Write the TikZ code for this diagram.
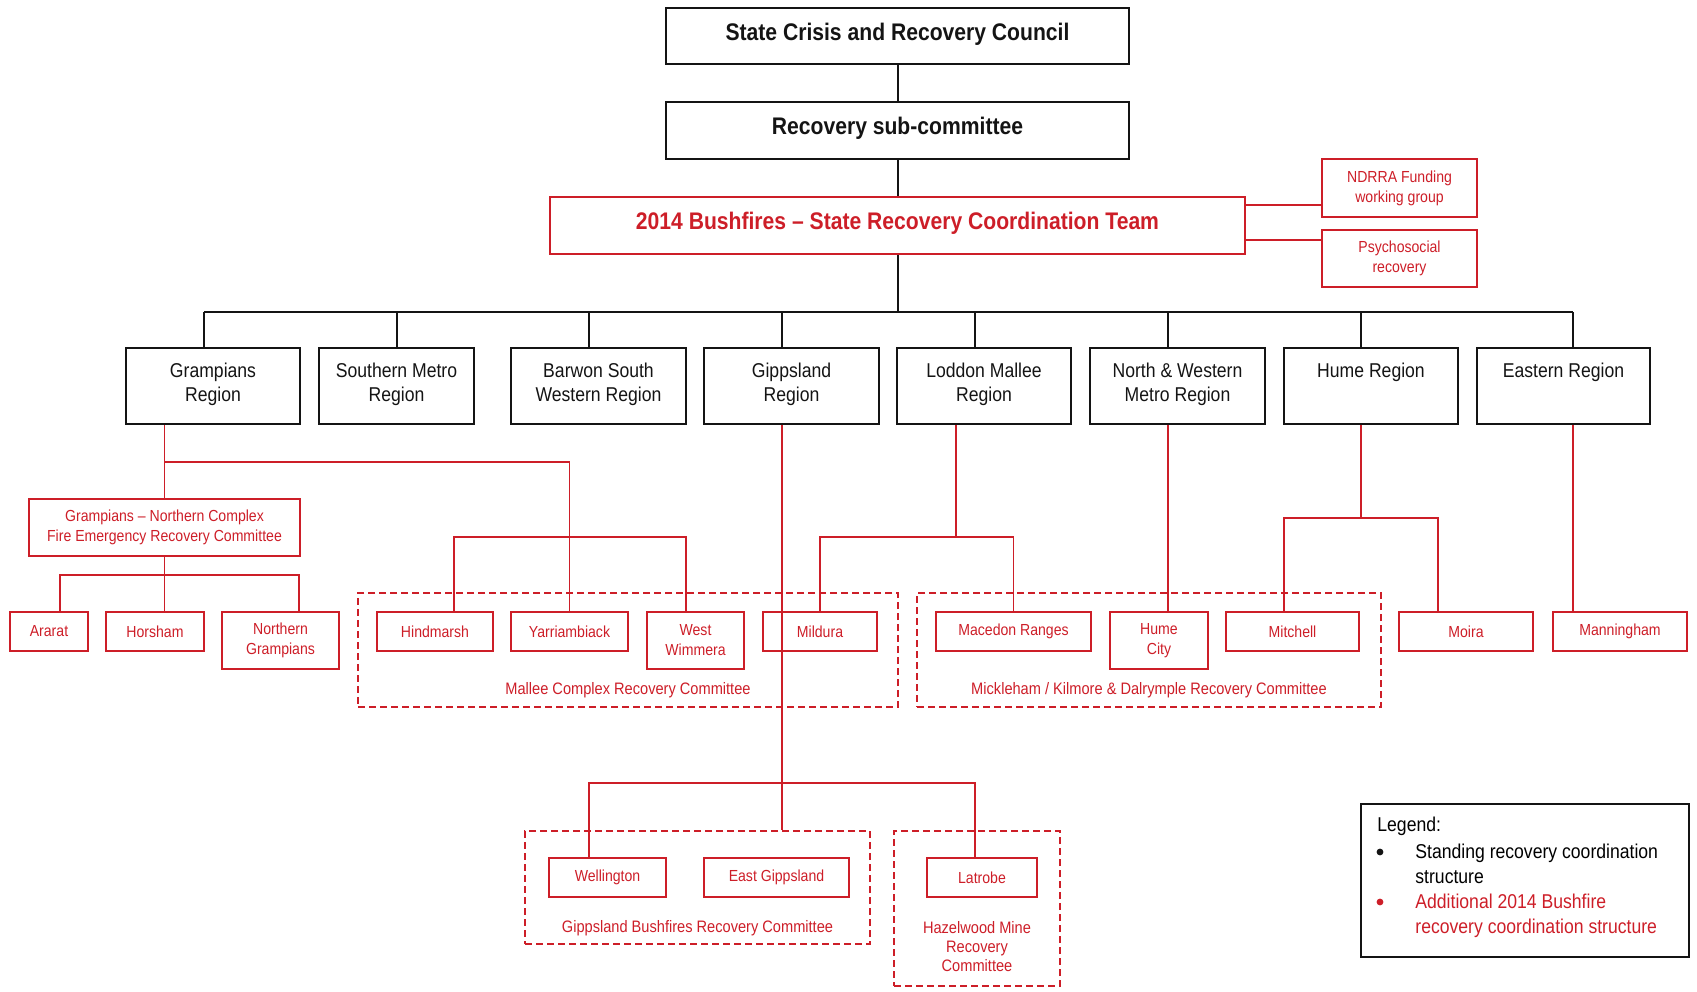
\documentclass[tikz,border=0pt]{standalone}
\usepackage{fontspec}
\setmainfont{Liberation Sans}[FakeStretch=0.88]
\usepackage{tikz}
\usetikzlibrary{calc}
\definecolor{ScrRed}{RGB}{205,30,40}
\definecolor{ScrBlack}{RGB}{20,20,20}
\tikzset{
  scr/box/.style={
    draw=ScrBlack,
    line width=1pt,
    align=center,
    text=ScrBlack,
    inner sep=0pt,
    font=\fontsize{10}{12}\selectfont
  },
  scr/topbox/.style={
    scr/box,
    minimum width=231.5pt,
    minimum height=28pt,
    text depth=0.45em,
    font=\bfseries\fontsize{12}{14}\selectfont
  },
  scr/region/.style={
    scr/box,
    minimum width=87pt,
    minimum height=38pt,
    text depth=0.42em
  },
  scr/redbox/.style={
    draw=ScrRed,
    line width=1pt,
    align=center,
    text=ScrRed,
    inner sep=0pt,
    minimum height=19.5pt,
    font=\fontsize{8}{10}\selectfont
  },
  scr/tallbox/.style={scr/redbox, minimum height=28.5pt},
  scr/dashbox/.style={draw=ScrRed, line width=1pt, dash pattern=on 3.5pt off 2pt},
  scr/comlabel/.style={text=ScrRed, align=center, inner sep=0pt, font=\fontsize{8.3}{9.5}\selectfont},
  scr/legendtext/.style={align=left, inner sep=0pt, font=\fontsize{10}{12.25}\selectfont},
  scr/bullet/.style={circle, fill=ScrBlack, inner sep=0pt, minimum size=3.4pt},
  scr/line/.style={draw=ScrBlack, line width=1pt},
  scr/redline/.style={draw=ScrRed, line width=0.9pt}
}

\begin{document}
\begin{tikzpicture}[x=0.5pt,y=-0.5pt]
  \useasboundingbox (0,0) rectangle (1697,991);

  % standing structure
  \node[scr/topbox] (council) at (897.5,36) {State Crisis and Recovery Council};
  \node[scr/topbox,minimum height=28.5pt] (subcom) at (897.5,130.5) {Recovery sub-committee};
  \node[scr/topbox,draw=ScrRed,text=ScrRed,minimum width=347.5pt,minimum height=28.5pt] (srct) at (897.5,225.5) {2014 Bushfires -- State Recovery Coordination Team};
  \node[scr/tallbox,minimum width=77.5pt,minimum height=29pt] (ndrra) at (1399.5,188) {NDRRA Funding\\working group};
  \node[scr/tallbox,minimum width=77.5pt] (psych) at (1399.5,258.5) {Psychosocial\\recovery};

  \draw[scr/line] (council) -- (subcom);
  \draw[scr/line] (subcom) -- (srct);
  \draw[scr/redline] ($(srct.east)+(0,-20.5)$) coordinate (ndrraJ) -- (ndrraJ -| ndrra.west);
  \draw[scr/redline] ($(srct.east)+(0,14.5)$) coordinate (psychJ) -- (psychJ -| psych.west);

  % regions
  \node[scr/region] (gramp) at (213,386) {Grampians\\Region};
  \node[scr/region,minimum width=77.5pt] (smetro) at (396.5,386) {Southern Metro\\Region};
  \node[scr/region,minimum width=87.5pt] (barwon) at (598.5,386) {Barwon South\\Western Region};
  \node[scr/region,minimum width=87.5pt] (gipps) at (791.5,386) {Gippsland\\Region};
  \node[scr/region] (loddon) at (984,386) {Loddon Mallee\\Region};
  \node[scr/region,minimum width=87.5pt] (nwmetro) at (1177.5,386) {North \& Western\\Metro Region};
  \node[scr/region] (hume) at (1371,386) {Hume Region\\\mbox{}};
  \node[scr/region,minimum width=86.5pt] (eastern) at (1563.5,386) {Eastern Region\\\mbox{}};

  \coordinate (bus) at (897.5,312);
  \draw[scr/line] (srct.south) -- (bus);
  \foreach \reg/\dx in {gramp/-9,smetro/0,barwon/-9.5,gipps/-9.5,loddon/-9,nwmetro/-9.5,hume/-10,eastern/9.5}
    \draw[scr/line] ($(\reg.north)+(\dx,0)$) coordinate (tick-\reg) -- (tick-\reg |- bus);
  \draw[scr/line] (tick-gramp |- bus) -- (tick-eastern |- bus);

  % committees (dashed)
  \node[scr/dashbox,minimum width=270pt,minimum height=57pt] (mallee) at (628,650) {};
  \node[scr/dashbox,minimum width=232pt,minimum height=57pt] (mickle) at (1149,650) {};
  \node[scr/dashbox,minimum width=172.5pt,minimum height=56.5pt] (gbrc) at (697.5,887.5) {};
  \node[scr/dashbox,minimum width=83pt,minimum height=77.5pt] (hazel) at (977,908.5) {};
  \node[scr/comlabel] (malleeLbl) at ($(mallee.south)+(0,-18)$) {Mallee Complex Recovery Committee};
  \node[scr/comlabel] (mickleLbl) at ($(mickle.south)+(0,-18)$) {Mickleham / Kilmore \& Dalrymple Recovery Committee};
  \node[scr/comlabel] (gbrcLbl) at ($(gbrc.south)+(0,-17)$) {Gippsland Bushfires Recovery Committee};
  \node[scr/comlabel] (hazelLbl) at ($(hazel.south)+(0,-40)$) {Hazelwood Mine\\Recovery\\Committee};

  % local recovery boxes
  \node[scr/tallbox,minimum width=135.5pt] (gnc) at (164.5,527.5) {Grampians -- Northern Complex\\Fire Emergency Recovery Committee};
  \node[scr/redbox,minimum width=39pt] (ararat) at (49,631.5) {Ararat};
  \node[scr/redbox,minimum width=49pt] (horsham) at (155,631.5) {Horsham};
  \node[scr/tallbox,minimum width=58.5pt] (ngramp) at (280.5,640.5) {Northern\\Grampians};
  \node[scr/redbox,minimum width=58pt] (hind) at (435,631.5) {Hindmarsh};
  \node[scr/redbox,minimum width=58.5pt] (yarri) at (569.5,631.5) {Yarriambiack};
  \node[scr/tallbox,minimum width=48.5pt] (wwim) at (695.5,640.5) {West\\Wimmera};
  \node[scr/redbox,minimum width=57pt] (mildura) at (820,631.5) {Mildura};
  \node[scr/redbox,minimum width=77.5pt] (macedon) at (1013.5,631.5) {Macedon Ranges};
  \node[scr/tallbox,minimum width=49pt] (humecity) at (1159,640.5) {Hume\\City};
  \node[scr/redbox,minimum width=66.5pt] (mitchell) at (1292.5,631.5) {Mitchell};
  \node[scr/redbox,minimum width=67pt] (moira) at (1466,631.5) {Moira};
  \node[scr/redbox,minimum width=67pt] (manning) at (1620,631.5) {Manningham};
  \node[scr/redbox,minimum width=58.5pt] (welling) at (607.5,877.5) {Wellington};
  \node[scr/redbox,minimum width=72.5pt] (egipps) at (776.5,877.5) {East Gippsland};
  \node[scr/redbox,minimum width=55pt] (latrobe) at (982,877.5) {Latrobe};

  % Grampians
  \coordinate (gramJ) at (164.5,462);
  \coordinate (malJ) at (569.5,537);
  \coordinate (gncJ) at (164.5,575);
  \draw[scr/redline] (gnc.north |- gramp.south) -- (gnc.north);
  \draw[scr/redline] (gramJ) -| (yarri.north);
  \draw[scr/redline] ($(hind.north)+(19,0)$) |- (malJ) -| ($(wwim.north)+(-9.5,0)$);
  \draw[scr/redline] (gnc.south) -- (gnc.south |- horsham.north);
  \draw[scr/redline] ($(ararat.north)+(11,0)$) |- (gncJ) -| ($(ngramp.north)+(18.5,0)$);

  % Loddon Mallee
  \coordinate (lodJ) at (956,537);
  \draw[scr/redline] (lodJ |- loddon.south) -- (lodJ);
  \draw[scr/redline] (mildura.north) |- (lodJ) -| (macedon.north);

  % Gippsland
  \coordinate (gipJ) at (782,783);
  \draw[scr/redline] (gipJ |- gipps.south) -- (gipJ |- gbrc.north);
  \draw[scr/redline] ($(welling.north)+(-18.5,0)$) |- (gipJ) -| ($(latrobe.north)+(-7,0)$);

  % North & Western Metro, Hume, Eastern
  \draw[scr/redline] ($(nwmetro.south)+(-9.5,0)$) coordinate (nwJ) -- (nwJ |- humecity.north);
  \coordinate (humJ) at (1361,518);
  \draw[scr/redline] (humJ |- hume.south) -- (humJ);
  \draw[scr/redline] ($(mitchell.north)+(-8.5,0)$) |- (humJ) -| ($(moira.north)+(-28,0)$);
  \draw[scr/redline] ($(eastern.south)+(9.5,0)$) coordinate (eaJ) -- (eaJ |- manning.north);

  % legend
  \node[scr/box,minimum width=164pt,minimum height=76.5pt] (legend) at (1525,880.5) {};
  \node[scr/legendtext,anchor=west] (legendTtl) at ($(legend.north west)+(17,23)$) {Legend:};
  \node[scr/bullet] (bulletA) at ($(legend.north west)+(20,49)$) {};
  \node[scr/bullet,fill=ScrRed] (bulletB) at ($(legend.north west)+(20,99)$) {};
  \node[scr/legendtext,anchor=north west] (standing) at ($(legend.north west)+(55,41)$) {Standing recovery coordination\\structure};
  \node[scr/legendtext,anchor=north west,text=ScrRed] (additional) at ($(legend.north west)+(55,91)$) {Additional 2014 Bushfire\\recovery coordination structure};
\end{tikzpicture}
\end{document}
